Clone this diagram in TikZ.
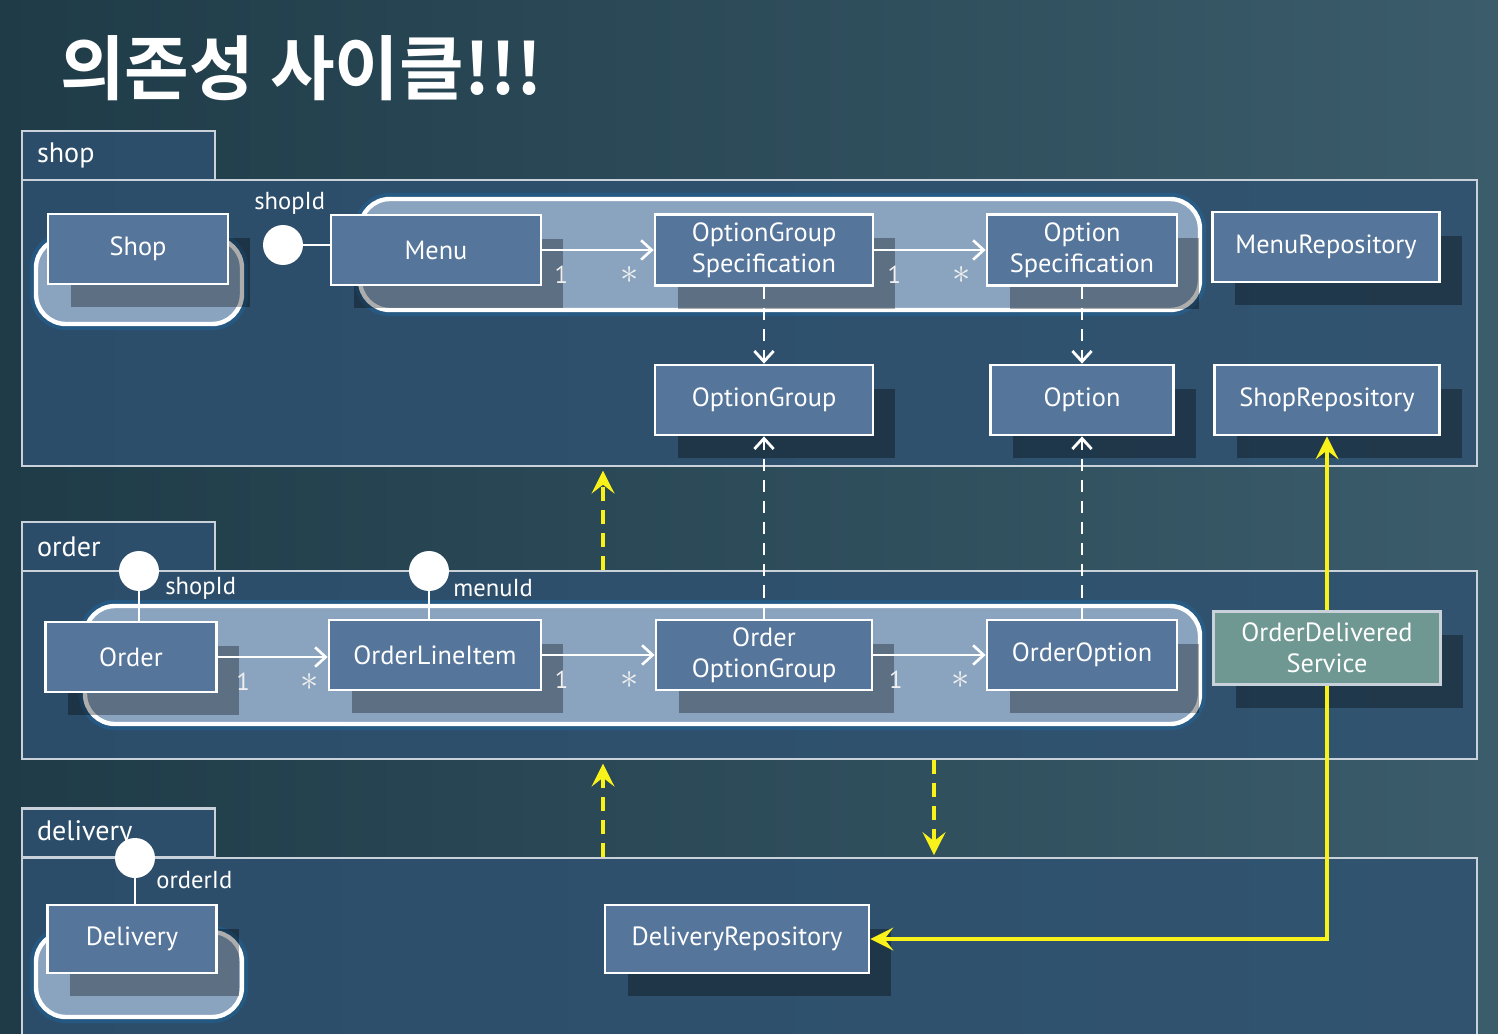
\documentclass[tikz,border=0pt]{standalone}
\usepackage{fontspec}
\setmainfont{PT Sans}
\newfontfamily\cjk{Noto Sans CJK KR}[BoldFont={Noto Sans CJK KR Bold}]
\usetikzlibrary{arrows.meta, shadows}

\definecolor{bgdark}{HTML}{1F3B48}
\definecolor{bglight}{HTML}{3B5C6B}
\definecolor{pkgfill}{HTML}{2F5272}
\definecolor{pkgline}{HTML}{C9D2DA}
\definecolor{clsfill}{HTML}{55759B}
\definecolor{aggfill}{HTML}{8AA4C0}
\definecolor{svcfill}{HTML}{6F9893}
\definecolor{cycyellow}{HTML}{F8F21A}

\tikzset{
  pkg/.style={draw=pkgline, line width=1.3pt, fill=pkgfill, fill opacity=0.8, text opacity=1, inner sep=0pt},
  pkgtab/.style={pkg, minimum width=3.86cm, minimum height=0.98cm, text width=3.26cm, inner xsep=0.3cm,
    align=left, text=white, font=\fontsize{16}{18}\selectfont},
  cls/.style={draw=white, line width=1.6pt, fill=clsfill, text=white, align=center, inner sep=0pt,
    minimum height=1.4cm, font=\fontsize{15}{17.5}\selectfont,
    drop shadow={shadow xshift=0.45cm, shadow yshift=-0.47cm, fill=black, opacity=0.32}},
  agg/.style={draw=white, line width=2.5pt, fill=aggfill, rounded corners=0.6cm,
    preaction={draw=cyan!60!blue, line width=7pt, opacity=0.25}},
  assoc/.style={draw=white, line width=1.5pt, -{Straight Barb[length=6pt, width=11pt]}},
  dep/.style={draw=white, line width=1.6pt, dash pattern=on 7pt off 5pt, -{Straight Barb[length=6pt, width=11pt]}},
  cycdep/.style={draw=cycyellow, line width=2.2pt, dash pattern=on 8pt off 5pt,
    -{Stealth[length=13pt, width=13pt, inset=5pt]}},
  cycref/.style={draw=cycyellow, line width=2pt, -{Stealth[length=13pt, width=13pt, inset=5pt]}},
  mult/.style={text=white!88!gray, inner sep=0pt, font=\fontsize{14}{15}\selectfont},
  lolli/.style={circle, fill=white, minimum size=0.8cm, inner sep=0pt},
  idlabel/.style={text=white, anchor=west, inner sep=0pt, font=\fontsize{14}{16}\selectfont},
}
\newcommand{\many}{\fontsize{20}{20}\selectfont$*$}

\begin{document}
\begin{tikzpicture}[x=0.02cm, y=-0.02cm]
    \useasboundingbox (0,0) rectangle (1498,1034);
    \shade[left color=bgdark, right color=bglight] (0,0) rectangle (1498,1034);
    \clip (0,0) rectangle (1498,1034);

    \node[anchor=west, text=white, font=\cjk\bfseries\fontsize{40}{44}\selectfont] (title) at (54,68) {의존성 사이클!!!};

    % packages
    \node[pkgtab] (shoptab) at (118.5,155.5) {shop};
    \node[pkg, minimum width=29.1cm, minimum height=5.72cm] (shoppkg) at (749.5,323) {};
    \node[pkgtab] (ordertab) at (118.5,546.5) {order};
    \node[pkg, minimum width=29.1cm, minimum height=3.76cm] (orderpkg) at (749.5,665) {};
    \node[pkgtab] (deltab) at (118.5,833) {delivery};
    \node[pkg, minimum width=29.1cm, minimum height=3.68cm] (delpkg) at (749.5,950) {};

    % aggregates
    \draw[agg] (36,238) rectangle (242,324);
    \draw[agg] (360,199) rectangle (1200,310);
    \draw[agg] (85,606) rectangle (1200,724);
    \draw[agg] (36,932) rectangle (242,1017);

    % shop
    \node[cls, minimum width=3.6cm] (shop) at (138,249) {Shop};
    \node[cls, minimum width=4.2cm] (menu) at (436,250) {Menu};
    \node[cls, minimum width=4.36cm, minimum height=1.42cm] (ogspec) at (764,250) {OptionGroup\\Specification};
    \node[cls, minimum width=3.8cm, minimum height=1.42cm] (ospec) at (1082,250) {Option\\Specification};
    \node[cls, minimum width=4.54cm] (menurepo) at (1326,247) {MenuRepository};
    \node[cls, minimum width=4.36cm] (optgroup) at (764,400) {OptionGroup};
    \node[cls, minimum width=3.66cm] (option) at (1082,400) {Option};
    \node[cls, minimum width=4.5cm] (shoprepo) at (1327,400) {ShopRepository};

    % order
    \node[cls, minimum width=3.42cm] (order) at (131,657) {Order};
    \node[cls, minimum width=4.24cm] (lineitem) at (435,655) {OrderLineItem};
    \node[cls, minimum width=4.32cm] (ooptgroup) at (764,655) {Order\\OptionGroup};
    \node[cls, minimum width=3.8cm] (ooption) at (1082,655) {OrderOption};
    \node[cls, fill=svcfill, draw=pkgline, line width=2.2pt, minimum width=4.54cm, minimum height=1.46cm] (delivered) at (1327,648) {OrderDelivered\\Service};

    % delivery
    \node[cls, minimum width=3.38cm, minimum height=1.36cm] (delivery) at (132,939) {Delivery};
    \node[cls, minimum width=5.28cm, minimum height=1.36cm] (delrepo) at (737,939) {DeliveryRepository};

    % ids
    \node[lolli] (shopid) at (283,245) {};
    \node[idlabel] (shopidtxt) at (254,203) {shopId};
    \draw[white, line width=1.4pt] (shopid) -- (shopid -| menu.west);
    \node[lolli] (oshopid) at (139,571) {};
    \node[idlabel] (oshopidtxt) at (165,588) {shopId};
    \draw[white, line width=1.4pt] (oshopid) -- (oshopid |- order.north);
    \node[lolli] (menuid) at (429,571) {};
    \node[idlabel] (menuidtxt) at (453,588) {menuId};
    \draw[white, line width=1.4pt] (menuid) -- (menuid |- lineitem.north);
    \node[lolli] (orderid) at (135,858) {};
    \node[idlabel] (orderidtxt) at (156,880) {orderId};
    \draw[white, line width=1.4pt] (orderid) -- (orderid |- delivery.north);

    % associations
    \draw[assoc] (menu) -- (ogspec)
        node[mult, pos=.17, below=0.3cm] (m1) {1} node[mult, pos=.78, below=0.3cm] (m2) {\many};
    \draw[assoc] (ogspec) -- (ospec)
        node[mult, pos=.18, below=0.3cm] (m3) {1} node[mult, pos=.78, below=0.3cm] (m4) {\many};
    \draw[assoc] (order.east) -- (order.east -| lineitem.west)
        node[mult, pos=.23, below=0.3cm] (m5) {1} node[mult, pos=.84, below=0.3cm] (m6) {\many};
    \draw[assoc] (lineitem) -- (ooptgroup)
        node[mult, pos=.17, below=0.3cm] (m7) {1} node[mult, pos=.78, below=0.3cm] (m8) {\many};
    \draw[assoc] (ooptgroup) -- (ooption)
        node[mult, pos=.2, below=0.3cm] (m9) {1} node[mult, pos=.78, below=0.3cm] (m10) {\many};

    \draw[dep] (ogspec) -- (optgroup);
    \draw[dep] (ospec) -- (option);
    \draw[dep] (ooptgroup) -- (optgroup);
    \draw[dep] (ooption) -- (option);

    % cycles
    \coordinate (cyca) at (603,0);
    \coordinate (cycb) at (934,0);
    \draw[cycdep, shorten >=2pt] (orderpkg.north -| cyca) -- (shoppkg.south -| cyca);
    \draw[cycdep, shorten >=2pt] (delpkg.north -| cyca) -- (orderpkg.south -| cyca);
    \draw[cycdep, shorten >=1pt] (orderpkg.south -| cycb) -- (delpkg.north -| cycb);
    \draw[cycref] (delivered) -- (shoprepo);
    \draw[cycref] (delivered.south) |- (delrepo.east);
\end{tikzpicture}
\end{document}
